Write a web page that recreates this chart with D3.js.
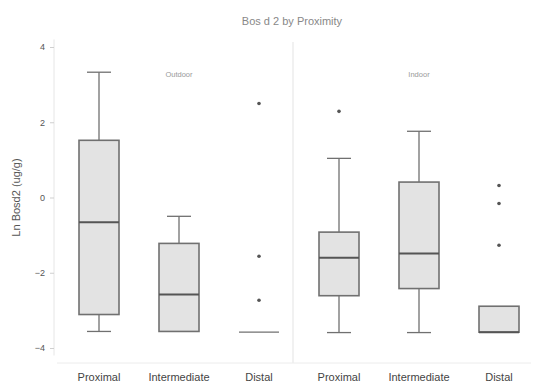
<!DOCTYPE html>
<html>
<head>
<meta charset="utf-8">
<script src="https://cdn.jsdelivr.net/npm/d3@7"></script>
<style>
  html, body { margin: 0; padding: 0; background: #fff; }
  svg { display: block; font-family: "Liberation Sans", Arial, sans-serif; }
</style>
</head>
<body>
<svg id="chart" width="535" height="387"></svg>
<script>
// Groups and categories
const panels = ["Outdoor", "Indoor"];
const categories = ["Proximal", "Intermediate", "Distal"];

// Box statistics per panel x category (Outdoor first, then Indoor)
const whiskerLow  = [-3.56, -3.56, -3.58, -3.59, -3.59, -3.58];
const q1          = [-3.11, -3.56, -3.58, -2.61, -2.42, -3.58];
const median      = [-0.66, -2.58, -3.58, -1.60, -1.49, -3.58];
const q3          = [ 1.52, -1.22, -3.58, -0.92,  0.41, -2.89];
const whiskerHigh = [ 3.33, -0.50, -3.58,  1.04,  1.76, -2.89];
const outliers    = [[], [], [2.50, -1.56, -2.73], [2.29], [], [0.32, -0.16, -1.27]];

const yTicks = [4, 2, 0, -2, -4];

const svg = d3.select("#chart");

const keys = [];
panels.forEach(p => categories.forEach(c => keys.push(p + "|" + c)));

const x = d3.scalePoint().domain(keys).range([59, 539]).padding(0.5);
const y = d3.scaleLinear().domain([-4, 4]).range([348, 47]);

const boxW = 40, capW = 24;
const stroke = "#707070";

// panel frame: bottom edge and divider
svg.append("line").attr("x1", 57).attr("x2", 531).attr("y1", 363).attr("y2", 363)
  .attr("stroke", "#ececec").attr("stroke-width", 1);
svg.append("line").attr("x1", 293).attr("x2", 293).attr("y1", 42).attr("y2", 363)
  .attr("stroke", "#ececec").attr("stroke-width", 1.5);

// y axis
const yAxis = svg.append("g").attr("transform", "translate(54,0)")
  .call(d3.axisLeft(y).tickValues(yTicks).tickSize(4).tickFormat(d3.format("d")));
yAxis.select(".domain").attr("stroke", "#e6e6e6").attr("d", `M0,${y(4.2)}V${y(-4.2)}`);
yAxis.selectAll(".tick line").attr("stroke", "#cfcfcf");
yAxis.selectAll(".tick text").attr("fill", "#555").attr("font-size", 9).attr("x", -9);

svg.append("text")
  .attr("transform", `translate(20,${y(0)}) rotate(-90)`)
  .attr("text-anchor", "middle").attr("fill", "#555").attr("font-size", 11)
  .text("Ln Bosd2 (ug/g)");

// title
svg.append("text").attr("x", 292).attr("y", 25).attr("text-anchor", "middle")
  .attr("fill", "#888").attr("font-size", 11).text("Bos d 2  by Proximity");

// panel labels
panels.forEach((p, i) => {
  svg.append("text").attr("x", x(p + "|Intermediate")).attr("y", 77)
    .attr("text-anchor", "middle").attr("fill", "#999").attr("font-size", 7.5)
    .text(p);
});

// boxes
const g = svg.append("g");
keys.forEach((k, i) => {
  const cx = x(k);
  const bg = g.append("g");
  // whiskers
  if (whiskerHigh[i] > q3[i]) {
    bg.append("line").attr("x1", cx).attr("x2", cx).attr("y1", y(q3[i])).attr("y2", y(whiskerHigh[i]))
      .attr("stroke", stroke).attr("stroke-width", 1.3);
    bg.append("line").attr("x1", cx - capW / 2).attr("x2", cx + capW / 2)
      .attr("y1", y(whiskerHigh[i])).attr("y2", y(whiskerHigh[i]))
      .attr("stroke", stroke).attr("stroke-width", 1.3);
  }
  if (whiskerLow[i] < q1[i]) {
    bg.append("line").attr("x1", cx).attr("x2", cx).attr("y1", y(q1[i])).attr("y2", y(whiskerLow[i]))
      .attr("stroke", stroke).attr("stroke-width", 1.3);
    bg.append("line").attr("x1", cx - capW / 2).attr("x2", cx + capW / 2)
      .attr("y1", y(whiskerLow[i])).attr("y2", y(whiskerLow[i]))
      .attr("stroke", stroke).attr("stroke-width", 1.3);
  }
  if (q3[i] > q1[i]) {
    bg.append("rect").attr("x", cx - boxW / 2).attr("width", boxW)
      .attr("y", y(q3[i])).attr("height", y(q1[i]) - y(q3[i]))
      .attr("fill", "#e3e3e3").attr("stroke", stroke).attr("stroke-width", 1.6);
    bg.append("line").attr("x1", cx - boxW / 2).attr("x2", cx + boxW / 2)
      .attr("y1", y(median[i])).attr("y2", y(median[i]))
      .attr("stroke", "#555").attr("stroke-width", 2);
  } else {
    // collapsed box: all quartiles equal
    bg.append("line").attr("x1", cx - boxW / 2).attr("x2", cx + boxW / 2)
      .attr("y1", y(median[i])).attr("y2", y(median[i]))
      .attr("stroke", stroke).attr("stroke-width", 1.3);
  }
  outliers[i].forEach(v => {
    bg.append("circle").attr("cx", cx).attr("cy", y(v)).attr("r", 1.8).attr("fill", "#555");
  });
});

// category labels
keys.forEach(k => {
  svg.append("text").attr("x", x(k)).attr("y", 381).attr("text-anchor", "middle")
    .attr("fill", "#444").attr("font-size", 11).text(k.split("|")[1]);
});
</script>
</body>
</html>
